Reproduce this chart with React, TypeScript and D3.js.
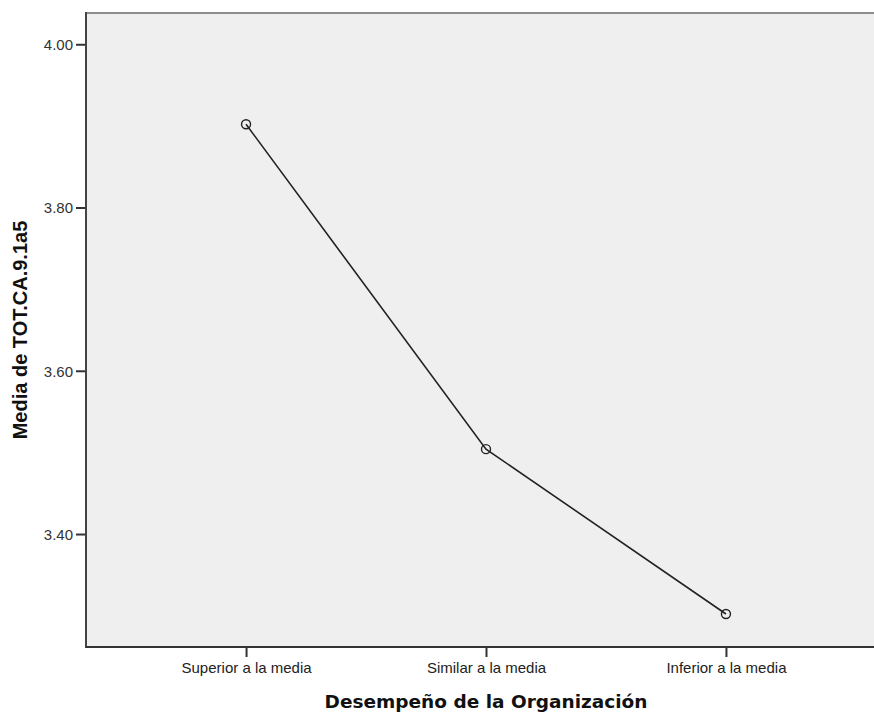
import { useEffect, useRef } from "react";
import * as d3 from "d3";

const categories = ["Superior a la media", "Similar a la media", "Inferior a la media"];
const means = [3.902, 3.504, 3.302];
const yTicks = [3.4, 3.6, 3.8, 4.0];

export default function App() {
	const svgRef = useRef<SVGSVGElement>(null);

	useEffect(() => {
		if (!svgRef.current) return;
		const svg = d3.select(svgRef.current);
		svg.selectAll("*").remove();

		const width = 874;
		const left = 86;
		const top = 13;
		const bottom = 647;

		const x = d3.scalePoint().domain(categories).range([left, 886]).padding(0.667);
		const y = d3.scaleLinear().domain([3.2616, 4.0383]).range([bottom, top]);

		// plot background
		svg.append("rect")
			.attr("x", left)
			.attr("y", top)
			.attr("width", width - left)
			.attr("height", bottom - top)
			.attr("fill", "#efefef");

		// frame
		svg.append("line")
			.attr("x1", left).attr("x2", width)
			.attr("y1", top).attr("y2", top)
			.attr("stroke", "#8c8c8c").attr("stroke-width", 2);
		svg.append("line")
			.attr("x1", left).attr("x2", left)
			.attr("y1", top - 1).attr("y2", bottom + 1)
			.attr("stroke", "#444").attr("stroke-width", 2);
		svg.append("line")
			.attr("x1", left).attr("x2", width)
			.attr("y1", bottom).attr("y2", bottom)
			.attr("stroke", "#333").attr("stroke-width", 2);

		const tickFont = "15px 'Liberation Sans', Arial, sans-serif";

		// y axis
		const yAxis = svg.append("g").attr("transform", `translate(${left - 1},0)`)
			.call(d3.axisLeft(y).tickValues(yTicks).tickFormat(d3.format(".2f")).tickSize(9).tickPadding(3));
		yAxis.select(".domain").remove();
		yAxis.selectAll(".tick line").attr("stroke", "#333").attr("stroke-width", 2);
		yAxis.selectAll(".tick text")
			.attr("fill", "#333")
			.attr("dy", "0.35em")
			.style("font", tickFont);

		// x axis
		const xAxis = svg.append("g").attr("transform", `translate(0,${bottom + 1})`)
			.call(d3.axisBottom(x).tickSize(9));
		xAxis.select(".domain").remove();
		xAxis.selectAll(".tick line").attr("stroke", "#333").attr("stroke-width", 2);
		xAxis.selectAll(".tick text")
			.attr("fill", "#222")
			.attr("y", 25)
			.attr("dy", 0)
			.style("font", tickFont);

		// line
		const line = d3.line<number>()
			.x((_, i) => x(categories[i]) as number)
			.y((d) => y(d));
		svg.append("path")
			.datum(means)
			.attr("d", line)
			.attr("fill", "none")
			.attr("stroke", "#222")
			.attr("stroke-width", 1.6);

		svg.selectAll("circle.pt")
			.data(means)
			.join("circle")
			.attr("class", "pt")
			.attr("cx", (_, i) => x(categories[i]) as number)
			.attr("cy", (d) => y(d))
			.attr("r", 4.5)
			.attr("fill", "none")
			.attr("stroke", "#222")
			.attr("stroke-width", 1.4);

		// axis titles
		svg.append("text")
			.attr("x", 486)
			.attr("y", 708)
			.attr("text-anchor", "middle")
			.attr("fill", "#111")
			.style("font", "bold 18.5px 'DejaVu Sans', sans-serif")
			.text("Desempeño de la Organización");

		svg.append("text")
			.attr("transform", `translate(27,330) rotate(-90)`)
			.attr("text-anchor", "middle")
			.attr("fill", "#111")
			.style("font", "bold 20px 'Liberation Sans', Arial, sans-serif")
			.text("Media de TOT.CA.9.1a5");
	}, []);

	return (
		<svg
			ref={svgRef}
			width={874}
			height={713}
			style={{ position: "absolute", left: 0, top: 0, display: "block" }}
		/>
	);
}
